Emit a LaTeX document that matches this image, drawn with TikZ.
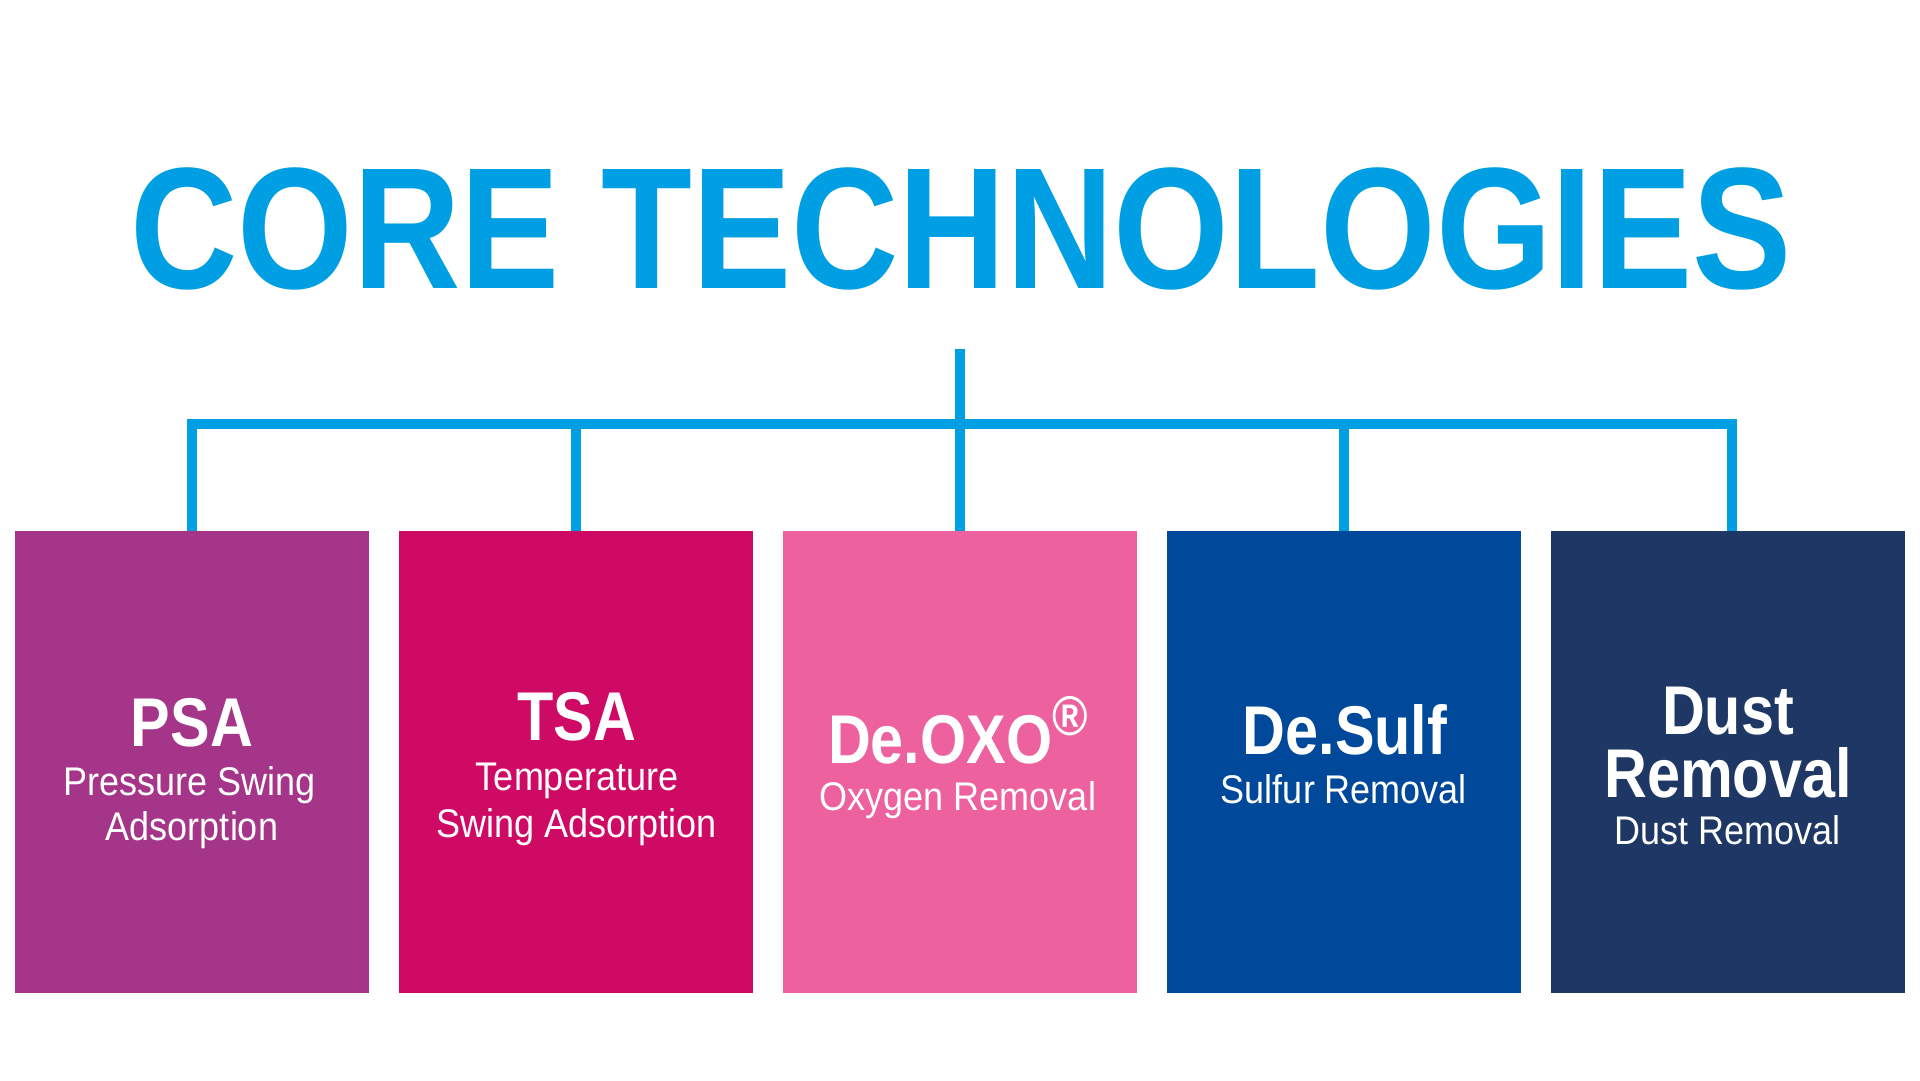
\documentclass[tikz,border=0pt]{standalone}
\usepackage{fontspec}
\usepackage{xcolor}
\usepackage{tikz}

\newfontfamily\headfont[FakeStretch=0.86]{Liberation Sans}
\newfontfamily\subfont[FakeStretch=0.9]{Liberation Sans}

\definecolor{coreblue}{HTML}{009FE3}
\definecolor{psacol}{HTML}{A43589}
\definecolor{tsacol}{HTML}{CE0A65}
\definecolor{oxocol}{HTML}{EC619E}
\definecolor{sulfcol}{HTML}{00489A}
\definecolor{dustcol}{HTML}{1E3764}

\begin{document}
\begin{tikzpicture}[x=1pt, y=-1pt,
        techbox/.style={rectangle, inner sep=0pt, minimum width=354.5pt, minimum height=462pt},
        bigtext/.style={anchor=base, text=white, inner sep=0pt, font=\headfont\bfseries\fontsize{69}{69}\selectfont},
        smalltext/.style={anchor=base, text=white, inner sep=0pt, font=\subfont\fontsize{40}{40}\selectfont},
        link/.style={draw=coreblue, line width=10pt}]
                        \useasboundingbox (0, 0) rectangle (1920, 1080);
                        \fill[white] (0, 0) rectangle (1920, 1080);

                        \node (title) at (961, 288.7) [anchor=base, text=coreblue, inner sep=0pt, font=\headfont\bfseries\fontsize{173}{173}\selectfont] {CORE TECHNOLOGIES};

                        \node (psa) at (192, 762) [techbox, fill=psacol] {};
                        \node (tsa) at (576, 762) [techbox, fill=tsacol] {};
                        \node (oxo) at (960, 762) [techbox, fill=oxocol] {};
                        \node (sulf) at (1344, 762) [techbox, fill=sulfcol] {};
                        \node (dust) at (1728, 762) [techbox, fill=dustcol] {};

                        \coordinate (top) at (960, 349);
                        \coordinate (hub) at (960, 424);

                        \draw[link] (psa.north) |- (hub) -| ([xshift=4pt]dust.north);
                        \draw[link] (top) -- (oxo.north);
                        \draw[link] (tsa.north) -- (tsa.north |- hub);
                        \draw[link] (sulf.north) -- (sulf.north |- hub);

                        \node (psa1) at (192, 746) [bigtext] {PSA};
                        \node (psa2) at (190, 795) [smalltext] {Pressure Swing};
                        \node (psa3) at (192, 840) [smalltext] {Adsorption};

                        \node (tsa1) at (577, 740) [bigtext] {TSA};
                        \node (tsa2) at (577, 790) [smalltext] {Temperature};
                        \node (tsa3) at (577, 837) [smalltext] {Swing Adsorption};

                        \node (oxo1) at (958, 763) [bigtext] {De.OXO\raisebox{28pt}{\fontsize{56}{56}\selectfont ®}};
                        \node (oxo2) at (958, 810) [smalltext] {Oxygen Removal};

                        \node (sulf1) at (1345, 754) [bigtext] {De.Sulf};
                        \node (sulf2) at (1344, 803) [smalltext] {Sulfur Removal};

                        \node (dust1) at (1728, 734) [bigtext] {Dust};
                        \node (dust2) at (1728, 797) [bigtext] {Removal};
                        \node (dust3) at (1728, 844) [smalltext] {Dust Removal};
                    \end{tikzpicture}
\end{document}
